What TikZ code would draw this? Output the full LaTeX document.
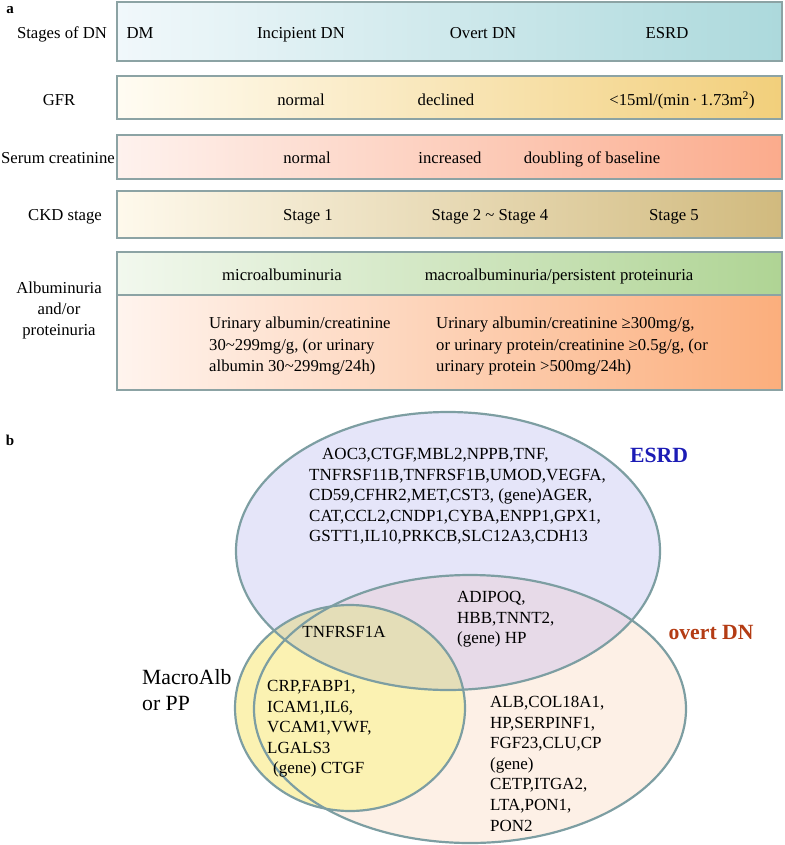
\documentclass[tikz,border=0pt]{standalone}
\usepackage{fontspec}
\setmainfont{Liberation Serif}
\definecolor{bordc}{HTML}{8CA3A4}
\definecolor{r1l}{HTML}{F1F8FB}\definecolor{r1m}{HTML}{D7EDF0}\definecolor{r1r}{HTML}{ACD9DC}
\definecolor{r2l}{HTML}{FFFCF3}\definecolor{r2m}{HTML}{F9E5B2}\definecolor{r2r}{HTML}{F2CF7B}
\definecolor{r3l}{HTML}{FEF2EE}\definecolor{r3m}{HTML}{FDCDB8}\definecolor{r3r}{HTML}{FBAB8C}
\definecolor{r4l}{HTML}{FEF9EC}\definecolor{r4m}{HTML}{EEDEAF}\definecolor{r4r}{HTML}{D1BA7E}
\definecolor{r5l}{HTML}{F2F8EE}\definecolor{r5m}{HTML}{D5E8C6}\definecolor{r5r}{HTML}{AFD494}
\definecolor{r6l}{HTML}{FFF4EE}\definecolor{r6m}{HTML}{FDD0B1}\definecolor{r6r}{HTML}{FBAE7C}
\definecolor{vblue}{HTML}{E5E5F9}
\definecolor{vpeach}{HTML}{FDF0E6}
\definecolor{vmauve}{HTML}{E7DAE8}
\definecolor{vyellow}{HTML}{FBF2B2}
\definecolor{volive}{HTML}{E4DEB8}
\definecolor{vline}{HTML}{7D9EA2}
\definecolor{esrdc}{HTML}{1C1CB5}
\definecolor{overtc}{HTML}{B43C14}
\newcommand\fA{\fontsize{16.7}{20}\selectfont}
\newcommand\fV{\fontsize{17}{20.6}\selectfont}
\newcommand\fL{\fontsize{21.7}{26}\selectfont}
\begin{document}
\begin{tikzpicture}[x=1pt,y=-1pt,
  rowbox/.style={draw=bordc, line width=2.6pt, anchor=north west, inner sep=0pt, outer sep=0pt},
  txt/.style={font=\fA, inner sep=0pt, anchor=base},
  vtxt/.style={font=\fV, inner sep=0pt, anchor=north west, align=left},
  plab/.style={font=\bfseries\fontsize{15}{15}\selectfont, inner sep=0pt}]
\useasboundingbox (0,0) rectangle (784,845);
% ---------- panel a ----------
\node[plab] (pa) at (10,10) {a};
\node[rowbox, left color=r1l, middle color=r1m, right color=r1r, minimum width=665pt, minimum height=59pt] (r1) at (117,2) {};
\node[rowbox, left color=r2l, middle color=r2m, right color=r2r, minimum width=665pt, minimum height=43pt] (r2) at (117,76) {};
\node[rowbox, left color=r3l, middle color=r3m, right color=r3r, minimum width=665pt, minimum height=44pt] (r3) at (117,135) {};
\node[rowbox, left color=r4l, middle color=r4m, right color=r4r, minimum width=665pt, minimum height=47pt] (r4) at (117,191) {};
\node[rowbox, left color=r5l, middle color=r5m, right color=r5r, minimum width=665pt, minimum height=43pt] (r5) at (117,252) {};
\node[rowbox, left color=r6l, middle color=r6m, right color=r6r, minimum width=665pt, minimum height=95pt] (r6) at (117,295) {};

\node[txt] (l1) at (62,38.5) {Stages of DN};
\node[txt] (t11) at (140,38.5) {DM};
\node[txt] (t12) at (301,38.5) {Incipient DN};
\node[txt] (t13) at (483,38.5) {Overt DN};
\node[txt] (t14) at (667,38.5) {ESRD};

\node[txt] (l2) at (59,105.5) {GFR};
\node[txt] (t21) at (301,105.5) {normal};
\node[txt] (t22) at (446,105.5) {declined};
\node[txt] (t23) at (682,105.5) {<15ml/(min\,·\,1.73m\textsuperscript{2})};

\node[txt] (l3) at (58,163.5) {Serum creatinine};
\node[txt] (t31) at (307,163.5) {normal};
\node[txt] (t32) at (450,163.5) {increased};
\node[txt] (t33) at (592,163.5) {doubling of baseline};

\node[txt] (l4) at (65,220.5) {CKD stage};
\node[txt] (t41) at (308,220.5) {Stage 1};
\node[txt] (t42) at (490,220.5) {Stage 2 \textasciitilde{} Stage 4};
\node[txt] (t43) at (674,220.5) {Stage 5};

\node[txt] (t51) at (282,280.5) {microalbuminuria};
\node[txt] (t52) at (559,280.5) {macroalbuminuria/persistent proteinuria};
\node[inner sep=0pt, align=center, font=\fontsize{16.7}{21}\selectfont] (l5) at (59,310) {Albuminuria\\and/or\\proteinuria};
\node[inner sep=0pt, anchor=north west, align=left, font=\fontsize{16.7}{21.5}\selectfont] (t61) at (209,317)
  {Urinary albumin/creatinine\\30\textasciitilde299mg/g, (or urinary\\albumin 30\textasciitilde299mg/24h)};
\node[inner sep=0pt, anchor=north west, align=left, font=\fontsize{16.7}{21.5}\selectfont] (t62) at (436,317)
  {Urinary albumin/creatinine ≥300mg/g,\\or urinary protein/creatinine ≥0.5g/g, (or\\urinary protein >500mg/24h)};

% ---------- panel b ----------
\node[plab] (pb) at (10,440) {b};
\def\eblue{(448,551) ellipse [x radius=212, y radius=139]}
\def\epeach{(470,709) ellipse [x radius=216, y radius=134]}
\def\eyellow{(350,708) ellipse [x radius=115, y radius=103]}
\fill[vblue] \eblue;
\fill[vpeach] \epeach;
\begin{scope}
  \clip \eblue;
  \fill[vmauve] \epeach;
\end{scope}
\fill[vyellow] \eyellow;
\begin{scope}
  \clip \eblue;
  \fill[volive] \eyellow;
\end{scope}
\draw[vline, line width=2.2pt] \eblue;
\draw[vline, line width=2.2pt] \epeach;
\draw[vline, line width=2.2pt] \eyellow;

\node[vtxt] (g1) at (309,448) {\hspace{13pt}AOC3,CTGF,MBL2,NPPB,TNF,\\TNFRSF11B,TNFRSF1B,UMOD,VEGFA,\\CD59,CFHR2,MET,CST3, (gene)AGER,\\CAT,CCL2,CNDP1,CYBA,ENPP1,GPX1,\\GSTT1,IL10,PRKCB,SLC12A3,CDH13};
\node[vtxt] (g2) at (457,591) {ADIPOQ,\\HBB,TNNT2,\\(gene) HP};
\node[font=\fV, inner sep=0pt] (g3) at (344,632) {TNFRSF1A};
\node[vtxt] (g4) at (267,680) {CRP,FABP1,\\ICAM1,IL6,\\VCAM1,VWF,\\LGALS3\\\hspace{6pt}(gene) CTGF};
\node[vtxt] (g5) at (490,696) {ALB,COL18A1,\\HP,SERPINF1,\\FGF23,CLU,CP\\(gene)\\CETP,ITGA2,\\LTA,PON1,\\PON2};

\node[font=\bfseries\fL, text=esrdc, inner sep=0pt] (le) at (659,455) {ESRD};
\node[font=\bfseries\fL, text=overtc, inner sep=0pt] (lo) at (711,632) {overt DN};
\node[font=\fL, inner sep=0pt, anchor=north west, align=left] (lm) at (142,669) {MacroAlb\\or PP};
\end{tikzpicture}
\end{document}
